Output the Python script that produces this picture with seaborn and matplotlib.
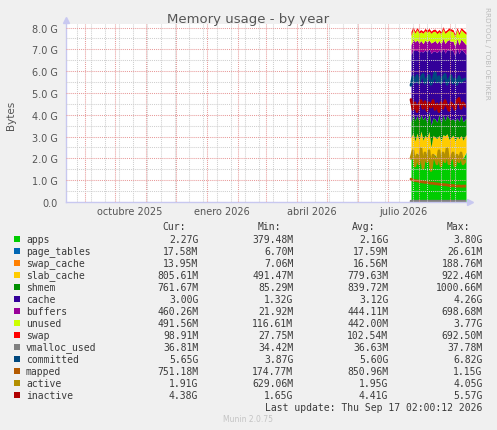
import numpy as np
import pandas as pd
import matplotlib
matplotlib.use("Agg")
import matplotlib.pyplot as plt
import matplotlib.dates as mdates
from matplotlib.patches import Rectangle
import seaborn as sns

# ---------------- data (GiB) ----------------
dates = ["2026-07-24", "2026-07-26", "2026-07-28", "2026-07-30", "2026-08-01",
         "2026-08-03", "2026-08-05", "2026-08-07", "2026-08-09", "2026-08-11",
         "2026-08-13", "2026-08-15", "2026-08-17", "2026-08-19", "2026-08-21",
         "2026-08-23", "2026-08-25", "2026-08-27", "2026-08-29", "2026-08-31",
         "2026-09-02", "2026-09-04", "2026-09-06", "2026-09-08", "2026-09-10",
         "2026-09-12", "2026-09-14", "2026-09-17"]

apps = [2.2, 2.3, 2.0, 2.25, 2.1, 2.4, 1.9, 2.3, 2.1, 2.35, 1.8, 2.2, 2.15, 2.0,
        2.3, 1.95, 2.3, 2.1, 2.4, 2.0, 2.15, 2.3, 1.9, 2.2, 2.05, 2.3, 2.0, 2.27]
page_tables = [0.016, 0.017, 0.018, 0.017, 0.019, 0.018, 0.017, 0.016, 0.018, 0.019,
               0.017, 0.018, 0.017, 0.016, 0.018, 0.017, 0.019, 0.018, 0.017, 0.018,
               0.016, 0.017, 0.018, 0.019, 0.017, 0.018, 0.017, 0.017]
swap_cache = [0.020, 0.015, 0.017, 0.014, 0.016, 0.018, 0.015, 0.017, 0.016, 0.014,
              0.019, 0.016, 0.015, 0.017, 0.016, 0.018, 0.015, 0.016, 0.017, 0.014,
              0.016, 0.018, 0.015, 0.016, 0.017, 0.015, 0.016, 0.014]
slab_cache = [0.72, 0.85, 0.76, 0.88, 0.70, 0.82, 0.90, 0.74, 0.80, 0.86, 0.68, 0.83,
              0.78, 0.88, 0.73, 0.81, 0.76, 0.90, 0.70, 0.84, 0.79, 0.74, 0.87, 0.77,
              0.82, 0.72, 0.80, 0.79]
shmem = [0.70, 0.85, 0.95, 0.80, 0.90, 0.75, 0.95, 0.85, 0.70, 0.90, 1.00, 0.80,
         0.85, 0.75, 0.95, 0.80, 0.90, 0.70, 0.85, 0.95, 0.80, 0.75, 0.90, 0.85,
         0.80, 0.95, 0.85, 0.74]
cache = [3.10, 2.95, 3.20, 3.00, 3.15, 2.90, 3.10, 3.05, 3.25, 2.90, 3.30, 3.05,
         3.10, 3.20, 2.95, 3.25, 3.05, 3.10, 3.00, 3.15, 3.20, 3.10, 3.00, 3.20,
         3.10, 3.00, 3.25, 2.93]
buffers = [0.45, 0.50, 0.40, 0.48, 0.42, 0.50, 0.38, 0.46, 0.44, 0.40, 0.48, 0.43,
           0.50, 0.41, 0.45, 0.39, 0.47, 0.44, 0.42, 0.48, 0.40, 0.46, 0.43, 0.45,
           0.41, 0.47, 0.44, 0.45]
unused = [0.42, 0.45, 0.40, 0.47, 0.44, 0.40, 0.48, 0.43, 0.46, 0.41, 0.44, 0.48,
          0.42, 0.45, 0.40, 0.47, 0.43, 0.46, 0.41, 0.44, 0.47, 0.42, 0.45, 0.40,
          0.46, 0.43, 0.44, 0.48]
swap = [0.20, 0.10, 0.09, 0.10, 0.11, 0.10, 0.09, 0.10, 0.10, 0.11, 0.10, 0.09,
        0.10, 0.10, 0.10, 0.11, 0.10, 0.10, 0.09, 0.10, 0.10, 0.10, 0.11, 0.10,
        0.10, 0.10, 0.10, 0.10]

vmalloc_used = [0.036, 0.036, 0.037, 0.036, 0.036, 0.035, 0.036, 0.037, 0.036, 0.036,
                0.036, 0.037, 0.036, 0.036, 0.035, 0.036, 0.036, 0.037, 0.036, 0.036,
                0.036, 0.037, 0.036, 0.036, 0.036, 0.036, 0.037, 0.036]
committed = [5.35, 5.75, 5.50, 5.80, 5.45, 5.70, 5.85, 5.45, 5.65, 5.80, 5.40, 5.60,
             5.95, 5.50, 5.75, 5.45, 5.70, 5.85, 5.40, 5.60, 5.80, 5.45, 5.65, 5.40,
             5.75, 5.50, 5.60, 5.65]
mapped = [1.05, 1.00, 0.98, 0.97, 0.95, 0.93, 0.92, 0.90, 0.90, 0.88, 0.86, 0.86,
          0.84, 0.83, 0.82, 0.80, 0.80, 0.79, 0.78, 0.76, 0.75, 0.76, 0.74, 0.73,
          0.74, 0.72, 0.73, 0.73]
active = [2.00, 2.35, 1.65, 2.15, 1.75, 2.45, 1.55, 2.25, 1.85, 2.35, 1.45, 2.15,
          2.00, 1.75, 2.35, 1.65, 2.25, 1.85, 2.45, 1.75, 2.00, 2.25, 1.65, 2.15,
          1.85, 2.25, 1.75, 1.91]
inactive = [4.70, 4.25, 4.55, 4.15, 4.50, 4.65, 4.30, 4.60, 4.20, 4.55, 4.35, 4.65,
            4.25, 4.50, 4.15, 4.55, 4.30, 4.65, 4.40, 4.20, 4.55, 4.45, 4.25, 4.65,
            4.75, 4.30, 4.55, 4.38]

area_names = ["apps", "page_tables", "swap_cache", "slab_cache", "shmem",
              "cache", "buffers", "unused", "swap"]
line_names = ["vmalloc_used", "committed", "mapped", "active", "inactive"]
colors = {"apps": "#00CC00", "page_tables": "#0066B3", "swap_cache": "#FF8000",
          "slab_cache": "#FFCC00", "shmem": "#008F00", "cache": "#330099",
          "buffers": "#990099", "unused": "#CCFF00", "swap": "#FF0000",
          "vmalloc_used": "#808080", "committed": "#00487D", "mapped": "#B35A00",
          "active": "#B38F00", "inactive": "#B00000"}

legend_cur = ["2.27G", "17.58M", "13.95M", "805.61M", "761.67M", "3.00G", "460.26M",
              "491.56M", "98.91M", "36.81M", "5.65G", "751.18M", "1.91G", "4.38G"]
legend_min = ["379.48M", "6.70M", "7.06M", "491.47M", "85.29M", "1.32G", "21.92M",
              "116.61M", "27.75M", "34.42M", "3.87G", "174.77M", "629.06M", "1.65G"]
legend_avg = ["2.16G", "17.59M", "16.56M", "779.63M", "839.72M", "3.12G", "444.11M",
              "442.00M", "102.54M", "36.63M", "5.60G", "850.96M", "1.95G", "4.41G"]
legend_max = ["3.80G", "26.61M", "188.76M", "922.46M", "1000.66M", "4.26G", "698.68M",
              "3.77G", "692.50M", "37.78M", "6.82G", "1.15G", "4.05G", "5.57G"]

y_ticks = [0, 1, 2, 3, 4, 5, 6, 7, 8]
y_tick_labels = ["0.0", "1.0 G", "2.0 G", "3.0 G", "4.0 G", "5.0 G", "6.0 G",
                 "7.0 G", "8.0 G"]
month_labels = ["octubre 2025", "enero 2026", "abril 2026", "julio 2026"]
month_label_pos = ["2025-10-16", "2026-01-16", "2026-04-16", "2026-07-16"]

# ---------------- figure ----------------
sns.set_style("white")
plt.rcParams["font.family"] = ["DejaVu Sans"]

W, H = 497, 431
fig = plt.figure(figsize=(W / 100, H / 100), dpi=100, facecolor="#F0F0F0")
ax = fig.add_axes([66 / W, 1 - 203 / H, 400 / W, 178 / H])
ax.set_facecolor("white")

x = pd.to_datetime(dates)
area_data = {"apps": apps, "page_tables": page_tables, "swap_cache": swap_cache,
             "slab_cache": slab_cache, "shmem": shmem, "cache": cache,
             "buffers": buffers, "unused": unused, "swap": swap}
line_data = {"vmalloc_used": vmalloc_used, "committed": committed,
             "mapped": mapped, "active": active, "inactive": inactive}

base = np.zeros(len(dates))
for name in area_names:
    top = base + np.array(area_data[name])
    ax.fill_between(x, base, top, color=colors[name], linewidth=0, zorder=1)
    base = top

long = pd.DataFrame({
    "date": np.tile(x, len(line_names)),
    "value": np.concatenate([line_data[n] for n in line_names]),
    "series": np.repeat(line_names, len(dates)),
})
sns.lineplot(data=long, x="date", y="value", hue="series", hue_order=line_names,
             palette=colors, linewidth=2.0, legend=False, ax=ax, zorder=2)
ax.set_xlabel("")
ax.set_ylabel("")

# axes ranges
ax.set_xlim(pd.Timestamp("2025-08-13"), pd.Timestamp("2026-09-17"))
ax.set_ylim(0, 8.165)

# grid
ax.set_yticks(y_ticks)
ax.set_yticklabels(y_tick_labels)
ax.set_yticks(np.arange(0.5, 8.1, 1.0), minor=True)
ax.xaxis.set_major_locator(mdates.MonthLocator())
minor_days = pd.date_range("2025-08-24", "2026-09-17", freq="14D")
ax.set_xticks(mdates.date2num(minor_days), minor=True)
ax.set_xticklabels([])
ax.set_xticklabels([], minor=True)

red = "#E89A9A"
gray = "#CFCFCF"
ax.grid(True, which="major", color=red, linestyle=(0, (1, 1)), linewidth=0.75)
ax.grid(True, which="minor", color=gray, linestyle=(0, (1, 1)), linewidth=0.75)
ax.set_axisbelow(False)

ax.tick_params(axis="y", which="major", length=2, color=gray, labelsize=7,
               labelcolor="#555555", pad=4)
ax.tick_params(axis="y", which="minor", length=0)
ax.tick_params(axis="x", which="major", length=2, color=red)
ax.tick_params(axis="x", which="minor", length=1.5, color=gray)

for sp in ["top", "right"]:
    ax.spines[sp].set_visible(False)
for sp in ["left", "bottom"]:
    ax.spines[sp].set_color("#C8C8F0")
    ax.spines[sp].set_linewidth(1.0)

ax.plot([0], [1.0 + 4 / 178], marker="^", color="#C8C8F0", markersize=5,
        transform=ax.transAxes, clip_on=False)
ax.plot([1.0 + 4 / 400], [0], marker=">", color="#C8C8F0", markersize=5,
        transform=ax.transAxes, clip_on=False)

trans = ax.get_xaxis_transform()
for lab, pos in zip(month_labels, month_label_pos):
    ax.text(pd.Timestamp(pos), -9 / 178, lab, transform=trans, ha="center",
            va="center", fontsize=7, color="#555555")

# titles / side texts
fig.text(248.5 / W, 1 - 19 / H, "Memory usage - by year", ha="center", va="center",
         fontsize=9.5, color="#555555")
fig.text(11 / W, 1 - 115 / H, "Bytes", rotation=90, ha="center", va="center",
         fontsize=7.5, color="#555555")
fig.text(487 / W, 1 - 53 / H, "RRDTOOL / TOBI OETIKER", rotation=270, ha="center",
         va="center", fontsize=5.2, color="#BBBBBB")

# legend table
mono = "DejaVu Sans Mono"
tc = "#3A3A3A"
fs = 7.0
hdr_y = 227.3
for txt, xr in [("Cur:", 186), ("Min:", 281), ("Avg:", 375.7), ("Max:", 470)]:
    fig.text(xr / W, 1 - hdr_y / H, txt, ha="right", va="center", family=mono,
             fontsize=fs, color=tc)
all_names = area_names + line_names
for i, name in enumerate(all_names):
    yc = 239.7 + 12.0 * i
    fig.patches.append(Rectangle((14 / W, 1 - (yc + 3) / H), 6 / W, 6 / H,
                                 transform=fig.transFigure, color=colors[name],
                                 linewidth=0))
    fig.text(26 / W, 1 - yc / H, name, ha="left", va="center", family=mono,
             fontsize=fs, color=tc)
    for vals, xr in [(legend_cur, 198.3), (legend_min, 293.3),
                     (legend_avg, 388.3), (legend_max, 482.7)]:
        fig.text(xr / W, 1 - yc / H, vals[i], ha="right", va="center",
                 family=mono, fontsize=fs, color=tc)

fig.text(482.7 / W, 1 - 407.7 / H, "Last update: Thu Sep 17 02:00:12 2026",
         ha="right", va="center", family=mono, fontsize=fs, color=tc)
fig.text(248 / W, 1 - 420 / H, "Munin 2.0.75", ha="center", va="center",
         fontsize=5.5, color="#C4C4C4")

fig.savefig("out.png", dpi=100, facecolor=fig.get_facecolor())
